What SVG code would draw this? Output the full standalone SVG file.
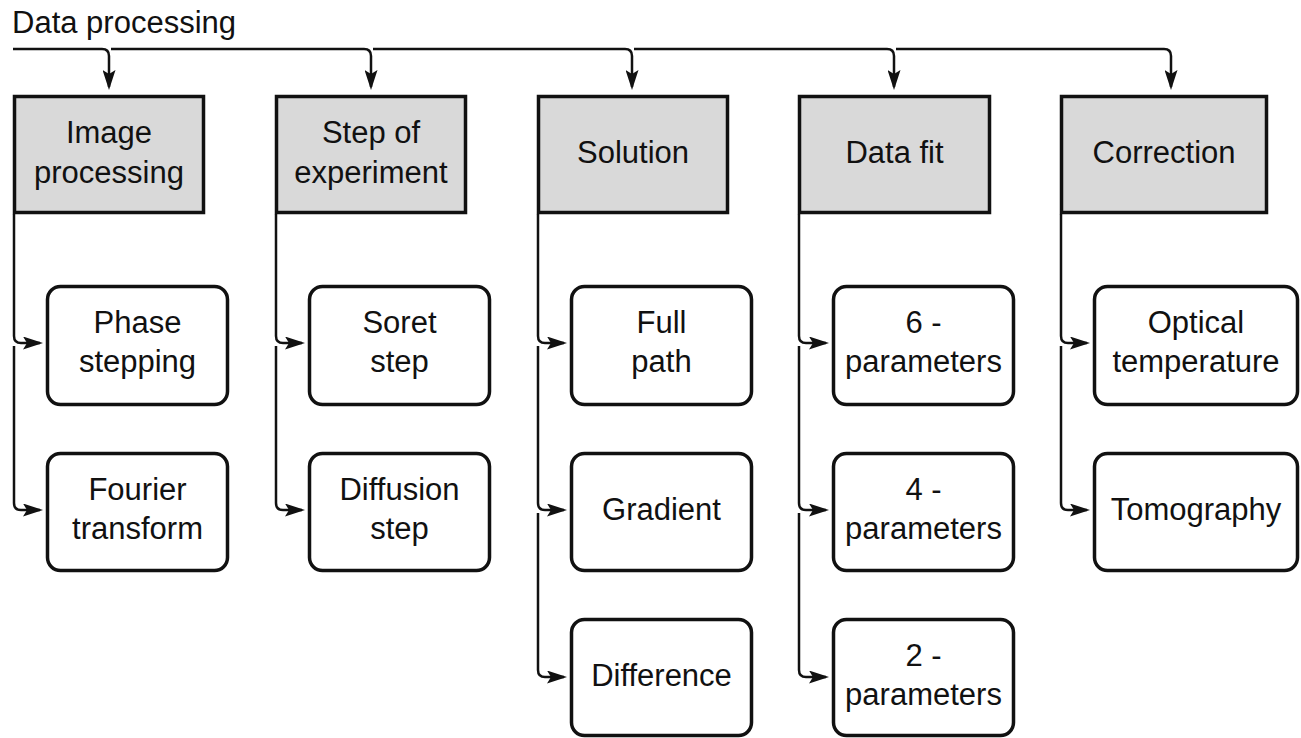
<svg xmlns="http://www.w3.org/2000/svg" width="1301" height="738" viewBox="0 0 1301 738">
<style>
.t{font-family:"Liberation Sans",Arial,sans-serif;font-size:31px;fill:#111;text-anchor:middle}
.tl{font-family:"Liberation Sans",Arial,sans-serif;font-size:31px;fill:#111;text-anchor:start}
.p{fill:#d9d9d9;stroke:#111;stroke-width:3.5}
.c{fill:#fff;stroke:#111;stroke-width:3.5}
.ln{fill:none;stroke:#111;stroke-width:2.5;marker-end:url(#ah)}
</style>
<defs>
<marker id="ah" viewBox="0 0 20 13" refX="17" refY="6.5" markerWidth="20" markerHeight="13" markerUnits="userSpaceOnUse" orient="auto">
<path d="M0,0 L20,6.5 L0,13 L4,6.5 z" fill="#111"/>
</marker>
</defs>
<rect width="1301" height="738" fill="#fff"/>
<text class="tl" x="12" y="33">Data processing</text>
<g id="connectors">
<path class="ln" d="M13,49 H102 Q109,49 109,56 V87"/>
<path class="ln" d="M111,49 H364 Q371,49 371,56 V87"/>
<path class="ln" d="M373,49 H625 Q632,49 632,56 V87"/>
<path class="ln" d="M634,49 H887 Q894,49 894,56 V87"/>
<path class="ln" d="M896,49 H1164 Q1171,49 1171,56 V87"/>
<path class="ln" d="M14,214 V336 Q14,343 21,343 H40"/>
<path class="ln" d="M14,346 V503 Q14,510 21,510 H40"/>
<path class="ln" d="M276,214 V336 Q276,343 283,343 H302"/>
<path class="ln" d="M276,346 V503 Q276,510 283,510 H302"/>
<path class="ln" d="M538,214 V336 Q538,343 545,343 H564"/>
<path class="ln" d="M538,346 V503 Q538,510 545,510 H564"/>
<path class="ln" d="M538,513 V670 Q538,677 545,677 H564"/>
<path class="ln" d="M799,214 V336 Q799,343 806,343 H826"/>
<path class="ln" d="M799,346 V503 Q799,510 806,510 H826"/>
<path class="ln" d="M799,513 V670 Q799,677 806,677 H826"/>
<path class="ln" d="M1061,214 V336 Q1061,343 1068,343 H1087"/>
<path class="ln" d="M1061,346 V503 Q1061,510 1068,510 H1087"/>
</g>
<g id="image-processing"><rect class="p" x="14.5" y="96.5" width="189" height="116"/><text class="t" x="109" y="143">Image</text><text class="t" x="109" y="183">processing</text></g>
<g id="step-of-experiment"><rect class="p" x="276.5" y="96.5" width="189" height="116"/><text class="t" x="371" y="143">Step of</text><text class="t" x="371" y="183">experiment</text></g>
<g id="solution"><rect class="p" x="538.5" y="96.5" width="189" height="116"/><text class="t" x="633" y="163">Solution</text></g>
<g id="data-fit"><rect class="p" x="799.5" y="96.5" width="190" height="116"/><text class="t" x="894.5" y="163">Data fit</text></g>
<g id="correction"><rect class="p" x="1061.5" y="96.5" width="205" height="116"/><text class="t" x="1164" y="163">Correction</text></g>
<g id="phase-stepping"><rect class="c" x="47.5" y="286.5" width="180" height="118" rx="13"/><text class="t" x="137.5" y="333">Phase</text><text class="t" x="137.5" y="372">stepping</text></g>
<g id="fourier-transform"><rect class="c" x="47.5" y="453.5" width="180" height="117" rx="13"/><text class="t" x="137.5" y="500">Fourier</text><text class="t" x="137.5" y="539">transform</text></g>
<g id="soret-step"><rect class="c" x="309.5" y="286.5" width="180" height="118" rx="13"/><text class="t" x="399.5" y="333">Soret</text><text class="t" x="399.5" y="372">step</text></g>
<g id="diffusion-step"><rect class="c" x="309.5" y="453.5" width="180" height="117" rx="13"/><text class="t" x="399.5" y="500">Diffusion</text><text class="t" x="399.5" y="539">step</text></g>
<g id="full-path"><rect class="c" x="571.5" y="286.5" width="180" height="118" rx="13"/><text class="t" x="661.5" y="333">Full</text><text class="t" x="661.5" y="372">path</text></g>
<g id="gradient"><rect class="c" x="571.5" y="453.5" width="180" height="117" rx="13"/><text class="t" x="661.5" y="520">Gradient</text></g>
<g id="difference"><rect class="c" x="571.5" y="619.5" width="180" height="116" rx="13"/><text class="t" x="661.5" y="686">Difference</text></g>
<g id="six-parameters"><rect class="c" x="833.5" y="286.5" width="180" height="118" rx="13"/><text class="t" x="923.5" y="333">6 -</text><text class="t" x="923.5" y="372">parameters</text></g>
<g id="four-parameters"><rect class="c" x="833.5" y="453.5" width="180" height="117" rx="13"/><text class="t" x="923.5" y="500">4 -</text><text class="t" x="923.5" y="539">parameters</text></g>
<g id="two-parameters"><rect class="c" x="833.5" y="619.5" width="180" height="116" rx="13"/><text class="t" x="923.5" y="666">2 -</text><text class="t" x="923.5" y="705">parameters</text></g>
<g id="optical-temperature"><rect class="c" x="1094.5" y="286.5" width="203" height="118" rx="13"/><text class="t" x="1196" y="333">Optical</text><text class="t" x="1196" y="372">temperature</text></g>
<g id="tomography"><rect class="c" x="1094.5" y="453.5" width="203" height="117" rx="13"/><text class="t" x="1196" y="520">Tomography</text></g>
</svg>
